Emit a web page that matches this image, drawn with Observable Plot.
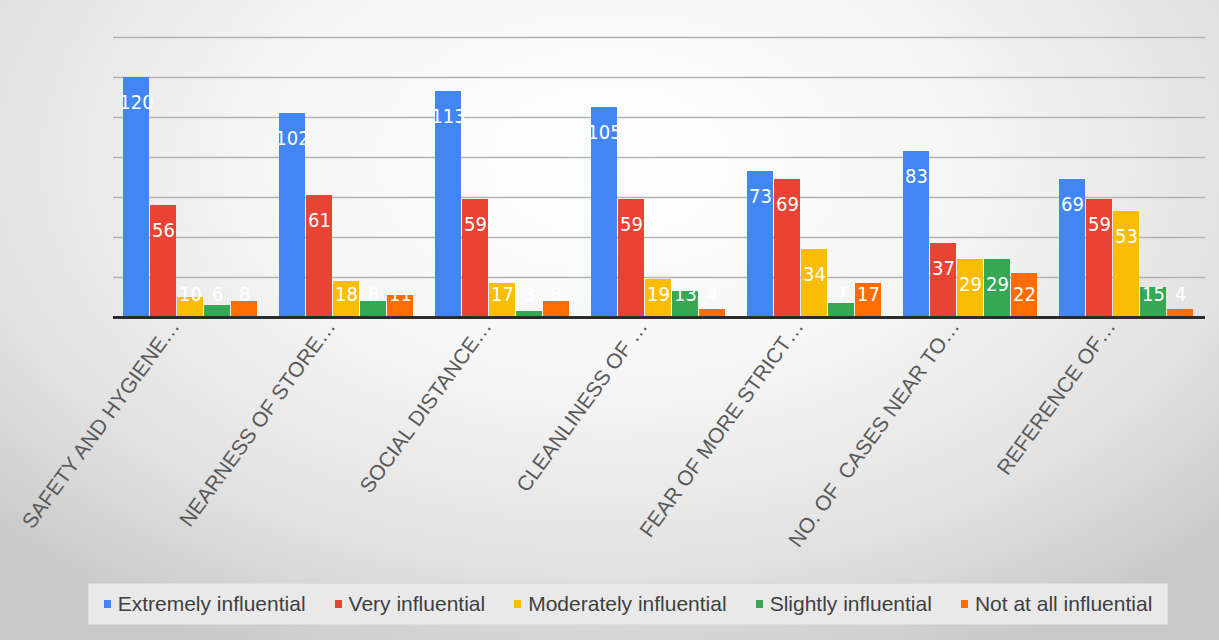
<!DOCTYPE html>
<html>
<head>
<meta charset="utf-8">
<script src="https://cdn.jsdelivr.net/npm/d3@7"></script>
<script src="https://cdn.jsdelivr.net/npm/@observablehq/plot@0.6"></script>
<style>
  html, body { margin: 0; padding: 0; }
  body {
    width: 1219px; height: 640px; overflow: hidden; position: relative;
    background: radial-gradient(ellipse 70% 85% at 50% 25%, #ffffff 0%, #f6f6f6 40%, #e2e2e2 75%, #c9c9c9 100%);
    font-family: "Liberation Sans", Arial, sans-serif;
  }
  #chart { position: relative; width: 1219px; height: 578px; }
  #chart svg { display: block; position: absolute; left: 0; top: 0; }
  #legend {
    position: absolute; left: 88px; top: 583px; width: 1080px; height: 42px;
    background: #e9e9e9; border: 1px solid #dcdcdc; box-sizing: border-box;
    display: flex; align-items: center; justify-content: center; gap: 29px;
    font-size: 21px; color: #404040;
  }
  .item { display: flex; align-items: center; white-space: nowrap; }
  .sw { width: 7px; height: 8px; margin-right: 7px; }
</style>
</head>
<body>
<div id="chart"></div>
<div id="legend"></div>
<script>
const categories = [
  "SAFETY AND HYGIENE…",
  "NEARNESS OF STORE…",
  "SOCIAL DISTANCE…",
  "CLEANLINESS OF …",
  "FEAR OF MORE STRICT…",
  "NO. OF  CASES NEAR TO…",
  "REFERENCE OF…"
];
const series = ["Extremely influential", "Very influential", "Moderately influential", "Slightly influential", "Not at all influential"];
const extremely = [120, 102, 113, 105, 73, 83, 69];
const very = [56, 61, 59, 59, 69, 37, 59];
const moderately = [10, 18, 17, 19, 34, 29, 53];
const slightly = [6, 8, 3, 13, 7, 29, 15];
const notAtAll = [8, 11, 8, 4, 17, 22, 4];
const yTicks = [0, 20, 40, 60, 80, 100, 120, 140];
const colors = ["#4285f4", "#ea4335", "#fbbc04", "#34a853", "#ff6d01"];

const seriesValues = [extremely, very, moderately, slightly, notAtAll];
const data = categories.flatMap((c, i) => series.map((s, j) => ({category: c, series: s, value: seriesValues[j][i]})));

const frame = {
  width: 1219,
  height: 578,
  marginTop: 37,
  marginBottom: 261,
  marginLeft: 113,
  marginRight: 14
};

// background layer: full-width gridlines and baseline
const grid = Plot.plot({
  ...frame,
  style: {background: "transparent", overflow: "visible"},
  x: {axis: null},
  y: {domain: [0, 140], axis: null},
  marks: [
    Plot.ruleY(yTicks.slice(1), {stroke: "#b4b4b4", strokeWidth: 1.5}),
    Plot.ruleY([0], {stroke: "#2b2b2b", strokeWidth: 3})
  ]
});

// foreground layer: grouped bars
const chart = Plot.plot({
  ...frame,
  style: {background: "transparent", overflow: "visible", fontFamily: "'Liberation Sans', Arial, sans-serif", color: "#595959"},
  fx: {domain: categories, paddingInner: 0.12, paddingOuter: 0.04, label: null},
  x: {domain: series, axis: null, padding: 0.02},
  y: {domain: [0, 140], axis: null},
  color: {domain: series, range: colors},
  marks: [
    Plot.axisFx({anchor: "bottom", tickRotate: -54, tickSize: 0, tickPadding: 5, label: null, dx: -16, fontSize: 21, fill: "#595959"}),
    Plot.barY(data, {fx: "category", x: "series", y: "value", fill: "series"}),
    Plot.ruleY([0], {stroke: "#2b2b2b", strokeWidth: 3}),
    Plot.text(data, {fx: "category", x: "series", y: d => Math.max(d.value, 24), dy: 25, text: d => String(d.value), fill: "white", fontSize: 20, fontFamily: "'Liberation Sans Narrow', 'DejaVu Sans Condensed', sans-serif"})
  ]
});
document.getElementById("chart").appendChild(grid);
document.getElementById("chart").appendChild(chart);

const legend = document.getElementById("legend");
series.forEach((s, j) => {
  const item = document.createElement("div");
  item.className = "item";
  const sw = document.createElement("span");
  sw.className = "sw";
  sw.style.background = colors[j];
  const label = document.createElement("span");
  label.textContent = s;
  item.appendChild(sw);
  item.appendChild(label);
  legend.appendChild(item);
});
</script>
</body>
</html>
